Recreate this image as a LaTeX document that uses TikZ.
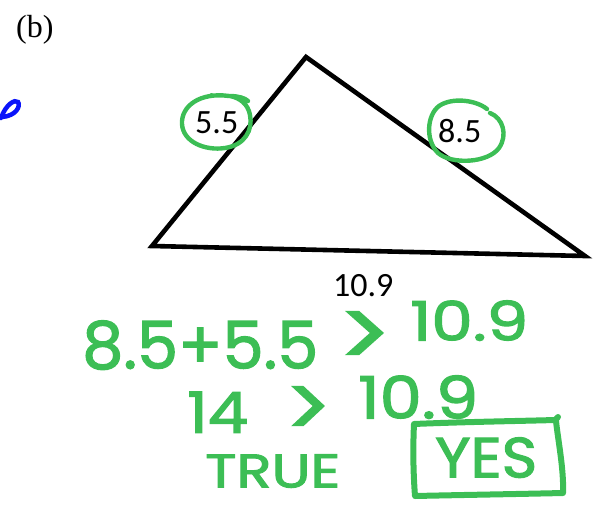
\documentclass[tikz,border=0pt]{standalone}
\usepackage{fontspec}
\setmainfont{Liberation Serif}
\newfontfamily\labfont{Carlito}
\newfontfamily\handfont[FakeBold=2]{Poppins}
\definecolor{hand}{RGB}{60,190,85}
\definecolor{pen}{RGB}{10,20,250}
\newcommand{\handtxt}[3]{\resizebox{#1pt}{#2pt}{\handfont #3}}
\tikzset{
  tri/.style={line width=4.6pt, line join=miter},
  lab/.style={anchor=south west, inner sep=0pt, font=\labfont\fontsize{34}{40}\selectfont},
  hw/.style={anchor=south west, inner sep=0pt, text=hand},
  ring/.style={draw=hand, line width=4.4pt, line cap=round},
  boxline/.style={draw=hand, line width=6pt, line cap=round, line join=round}
}
\begin{document}
\begin{tikzpicture}[x=1pt,y=-1pt]
\useasboundingbox (0,0) rectangle (605,509);
% title
\node[anchor=base west, inner sep=0pt, font=\fontsize{32}{36}\selectfont] (title) at (16,37) {(b)};
% blue stray mark
\draw[draw=pen, line width=4.5pt, line cap=round] (1,118) .. controls (6,104) and (15,99) .. (18,102) .. controls (21,106) and (16,116) .. (2,117);
% triangle
\coordinate (A) at (152,246);
\coordinate (B) at (306,57);
\coordinate (C) at (585,256);
\draw[tri] (A) -- (B) -- (C) -- cycle;
% side labels
\node[lab] (l55) at (195,134) {5.5};
\node[lab] (l85) at (438,143) {8.5};
\node[lab] (l109) at (333,297) {10.9};
% green rings
\draw[ring] (229,96) .. controls (200,92) and (181,106) .. (182,124) .. controls (183,142) and (205,151) .. (225,148) .. controls (245,145) and (253,130) .. (250,115) .. controls (248,104) and (240,98) .. (230,96) .. controls (238,96) and (245,98) .. (248,101);
\draw[ring] (487,109) .. controls (476,100) and (452,97) .. (439,106) .. controls (427,115) and (425,140) .. (438,153) .. controls (452,165) and (488,163) .. (499,148) .. controls (508,135) and (503,118) .. (490,113);
% handwritten work
\node[hw] (e1) at (82,370) {\handtxt{236}{48}{8.5+5.5}};
\node[hw] (g1) at (338,367) {\handtxt{53}{55}{>}};
\node[hw] (r1) at (410,341) {\handtxt{118}{40}{10.9}};
\node[hw] (e2) at (187,433) {\handtxt{61}{41}{14}};
\node[hw] (g2) at (285,437) {\handtxt{46}{50}{>}};
\node[hw] (r2) at (358,419) {\handtxt{120}{43}{10.9}};
\node[hw] (t3) at (205,488) {\handtxt{135}{33}{TRUE}};
\node[hw] (y3) at (435,478) {\handtxt{102}{40}{YES}};
% box round YES
\draw[boxline] (414,424) .. controls (460,422) and (520,421) .. (555,420) -- (558,417)
  (556,421) .. controls (558,440) and (564,470) .. (563,493)
  .. controls (520,494) and (460,495) .. (415,496)
  .. controls (413,470) and (413,445) .. (414,424);
\end{tikzpicture}
\end{document}
